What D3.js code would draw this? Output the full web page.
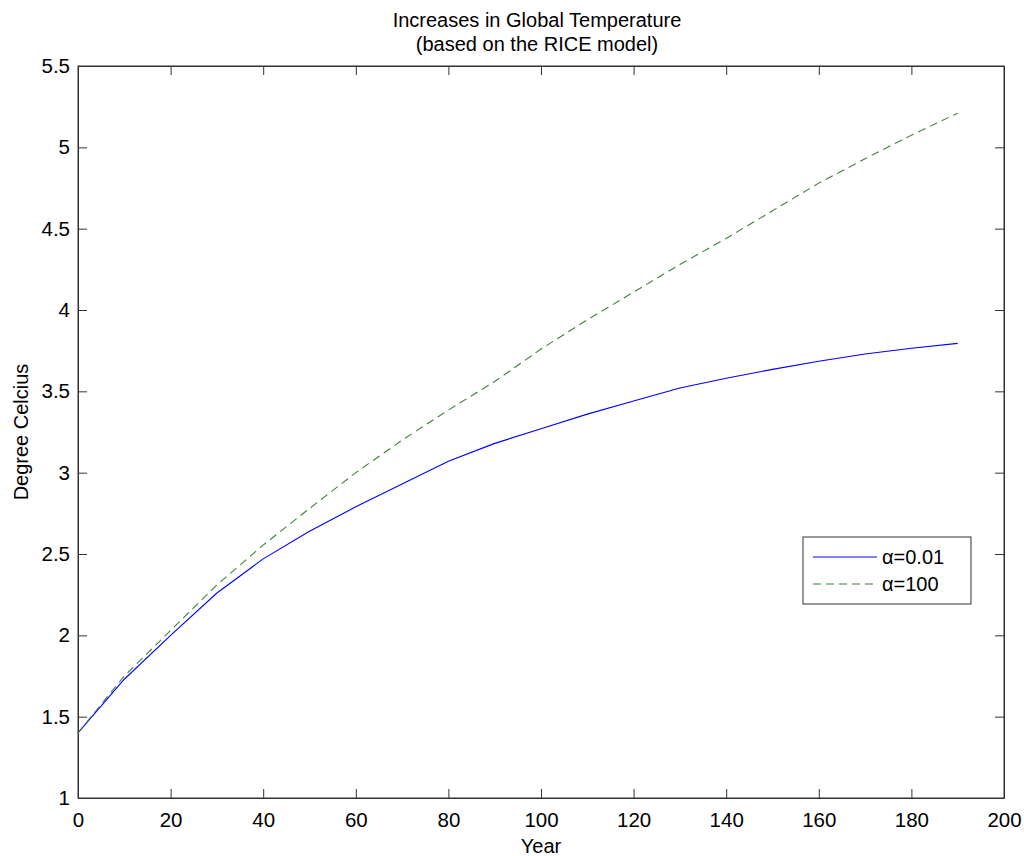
<!DOCTYPE html>
<html>
<head>
<meta charset="utf-8">
<script src="https://cdn.jsdelivr.net/npm/d3@7"></script>
<style>
  body { margin: 0; background: #fff; }
  svg text { font-family: "Liberation Sans", Arial, Helvetica, sans-serif; fill: #000; }
  .axis path, .axis line { stroke: #333; }
</style>
</head>
<body>
<script>
// data
var years = [0, 10, 20, 30, 40, 50, 60, 70, 80, 90, 100, 110, 120, 130, 140, 150, 160, 170, 180, 190];
var tempLow = [1.40, 1.73, 2.00, 2.26, 2.47, 2.64, 2.79, 2.93, 3.07, 3.18, 3.27, 3.36, 3.44, 3.52, 3.58, 3.635, 3.685, 3.73, 3.765, 3.795];
var tempHigh = [1.40, 1.75, 2.03, 2.31, 2.555, 2.78, 3.00, 3.20, 3.385, 3.56, 3.76, 3.94, 4.11, 4.28, 4.44, 4.61, 4.78, 4.93, 5.075, 5.21];
var xTicks = [0, 20, 40, 60, 80, 100, 120, 140, 160, 180, 200];
var yTicks = [1, 1.5, 2, 2.5, 3, 3.5, 4, 4.5, 5, 5.5];
var seriesNames = ["\u03b1=0.01", "\u03b1=100"];

var width = 1024, height = 856;
var margin = {top: 66, right: 20, bottom: 58, left: 78};
var pw = width - margin.left - margin.right,
    ph = height - margin.top - margin.bottom;

var svg = d3.select("body").append("svg")
  .attr("width", width)
  .attr("height", height);

var x = d3.scaleLinear().domain([0, 200]).range([margin.left, margin.left + pw]);
var y = d3.scaleLinear().domain([1, 5.5]).range([margin.top + ph, margin.top]);

// axes, matlab style: ticks inside on all four sides
var tl = 9;
svg.append("g").attr("class", "axis")
  .attr("transform", "translate(0," + (margin.top + ph) + ")")
  .call(d3.axisBottom(x).tickValues(xTicks).tickSize(-tl).tickPadding(14).tickSizeOuter(0))
  .selectAll("text").attr("font-size", "20.5px");
svg.append("g").attr("class", "axis")
  .attr("transform", "translate(0," + margin.top + ")")
  .call(d3.axisTop(x).tickValues(xTicks).tickSize(-tl).tickSizeOuter(0).tickFormat(""));
svg.append("g").attr("class", "axis")
  .attr("transform", "translate(" + margin.left + ",0)")
  .call(d3.axisLeft(y).tickValues(yTicks).tickSize(-tl).tickPadding(8).tickSizeOuter(0).tickFormat(d3.format("")))
  .selectAll("text").attr("font-size", "20.5px");
svg.append("g").attr("class", "axis")
  .attr("transform", "translate(" + (margin.left + pw) + ",0)")
  .call(d3.axisRight(y).tickValues(yTicks).tickSize(-tl).tickSizeOuter(0).tickFormat(""));

svg.append("rect")
  .attr("x", margin.left).attr("y", margin.top)
  .attr("width", pw).attr("height", ph)
  .attr("fill", "none").attr("stroke", "#333");

var line = d3.line()
  .x(function(d) { return x(d[0]); })
  .y(function(d) { return y(d[1]); });

svg.append("path")
  .datum(d3.zip(years, tempLow))
  .attr("d", line)
  .attr("fill", "none")
  .attr("stroke", "#0000ff")
  .attr("stroke-width", 1.1);

svg.append("path")
  .datum(d3.zip(years, tempHigh))
  .attr("d", line)
  .attr("fill", "none")
  .attr("stroke", "#3d7f3d")
  .attr("stroke-width", 1.1)
  .attr("stroke-dasharray", "8,5");

// titles
var cx = margin.left + pw / 2;
svg.append("text").attr("x", cx - 4).attr("y", 27).attr("text-anchor", "middle")
  .attr("font-size", "20px").text("Increases in Global Temperature");
svg.append("text").attr("x", cx - 4).attr("y", 51).attr("text-anchor", "middle")
  .attr("font-size", "20px").text("(based on the RICE model)");
svg.append("text").attr("x", cx).attr("y", 853).attr("text-anchor", "middle")
  .attr("font-size", "20px").text("Year");
svg.append("text")
  .attr("transform", "translate(28," + (margin.top + ph / 2) + ") rotate(-90)")
  .attr("text-anchor", "middle")
  .attr("font-size", "20px").text("Degree Celcius");

// legend
var lg = svg.append("g").attr("transform", "translate(803,537)");
lg.append("rect").attr("width", 168).attr("height", 67)
  .attr("fill", "#fff").attr("stroke", "#333");
var styles = [{c: "#0000ff", dash: null}, {c: "#3d7f3d", dash: "8,5"}];
seriesNames.forEach(function(name, i) {
  var yy = 20 + i * 27;
  lg.append("line").attr("x1", 10).attr("x2", 74).attr("y1", yy).attr("y2", yy)
    .attr("stroke", styles[i].c).attr("stroke-width", 1.1)
    .attr("stroke-dasharray", styles[i].dash);
  lg.append("text").attr("x", 79).attr("y", yy).attr("dy", "0.36em")
    .attr("font-size", "20px").text(name);
});
</script>
</body>
</html>
